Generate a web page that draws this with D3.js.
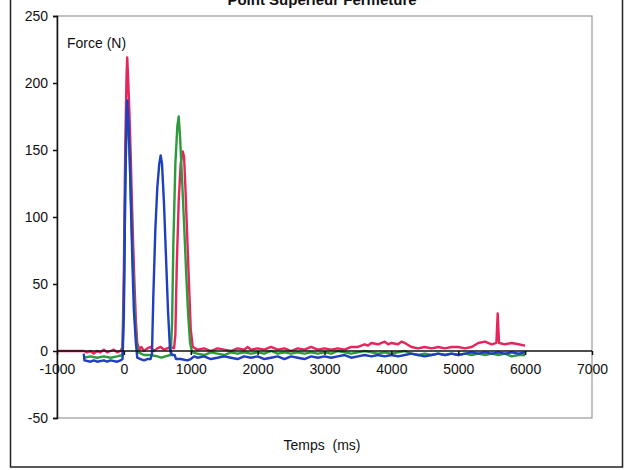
<!DOCTYPE html>
<html>
<head>
<meta charset="utf-8">
<script src="https://cdn.jsdelivr.net/npm/d3@7"></script>
<style>
  body { margin: 0; background: #fff; }
  svg { display: block; }
  text { font-family: "Liberation Sans", Arial, sans-serif; fill: #111; white-space: pre; }
</style>
</head>
<body>
<script>
// Point Supérieur Fermeture : force (N) vs temps (ms)
let xTicks = [-1000, 0, 1000, 2000, 3000, 4000, 5000, 6000, 7000];
let yTicks = [-50, 0, 50, 100, 150, 200, 250];

let redSeries = [
  [-1000, 0], [-600, 0], [-550, -1], [-500, 0], [-450, -2], [-400, 0], [-350, -1], [-300, 1],
  [-250, -1], [-200, 0], [-150, 1], [-100, -1], [-50, 0], [-20, 3], [0, 60], [20, 150],
  [40, 205], [50, 219], [60, 208], [80, 182], [100, 150], [120, 112], [140, 78], [160, 48],
  [180, 22], [200, 6], [230, 1], [260, 3], [300, 0], [350, 2], [400, 3], [450, 0],
  [500, 2], [550, 3], [600, 1], [650, 2], [700, 3], [750, 2], [770, 12], [790, 62],
  [820, 112], [850, 140], [880, 149], [900, 145], [920, 122], [950, 82], [980, 42], [1000, 16],
  [1030, 3], [1100, 1], [1200, 2], [1300, 0], [1400, 2], [1500, 1], [1600, 0], [1700, 2],
  [1800, 1], [1850, 3], [1900, 1], [2000, 2], [2100, 1], [2200, 3], [2300, 1], [2400, 2],
  [2500, 0], [2600, 2], [2700, 1], [2800, 3], [2900, 1], [3000, 2], [3100, 1], [3200, 2],
  [3300, 1], [3400, 3], [3500, 3], [3600, 5], [3650, 4], [3700, 6], [3800, 5], [3900, 7],
  [3950, 5], [4000, 6], [4100, 5], [4150, 7], [4200, 6], [4300, 3], [4400, 2], [4500, 3],
  [4600, 2], [4700, 3], [4800, 2], [4900, 3], [5000, 3], [5100, 2], [5200, 3], [5300, 6],
  [5400, 7], [5500, 5], [5570, 6], [5590, 28], [5610, 6], [5700, 5], [5800, 6], [5900, 5],
  [6000, 4]
];

let greenSeries = [
  [-600, -5], [-500, -4], [-400, -5], [-300, -4], [-200, -5], [-100, -4], [-20, -3], [0, 40],
  [20, 120], [40, 172], [55, 180], [70, 165], [90, 140], [110, 105], [130, 72], [150, 44],
  [170, 20], [190, 5], [220, -1], [300, -3], [400, -3], [500, -4], [560, -5], [620, -4],
  [700, -3], [720, 20], [740, 80], [770, 140], [800, 168], [820, 175], [840, 160], [870, 128],
  [900, 95], [930, 60], [960, 28], [990, 6], [1020, -1], [1100, -2], [1200, -3], [1300, -1],
  [1400, -2], [1500, -3], [1600, -1], [1700, -2], [1800, -1], [1900, -2], [2000, -1], [2100, -2],
  [2200, 0], [2300, -2], [2400, -1], [2500, -2], [2600, -1], [2700, -2], [2800, -1], [2900, -2],
  [3000, -1], [3100, -2], [3200, 0], [3300, -1], [3400, -2], [3500, -1], [3600, 0], [3700, -1],
  [3800, -2], [3900, -1], [4000, -2], [4100, -1], [4200, 0], [4300, -2], [4400, -3], [4500, -2],
  [4600, -3], [4700, -2], [4800, -3], [4900, -2], [5000, -3], [5100, -2], [5200, -3], [5300, -2],
  [5400, -3], [5500, -2], [5600, -3], [5700, -2], [5800, -4], [5900, -3], [6000, -3]
];

let blueSeries = [
  [-600, -2], [-590, -7], [-500, -8], [-450, -7], [-400, -8], [-300, -7], [-250, -8], [-200, -7],
  [-100, -8], [-50, -7], [-20, -6], [0, 28], [20, 118], [40, 178], [50, 187], [70, 170],
  [90, 140], [110, 100], [130, 62], [150, 30], [180, 6], [200, -5], [250, -6], [300, -7],
  [350, -6], [400, -6], [420, -2], [440, 40], [470, 90], [500, 122], [530, 140], [550, 146],
  [570, 140], [600, 110], [630, 70], [660, 30], [690, 1], [720, -3], [760, -3], [780, -6],
  [850, -6], [950, -7], [1000, -6], [1050, -4], [1100, -5], [1200, -4], [1300, -6], [1400, -5],
  [1500, -4], [1600, -5], [1700, -6], [1800, -4], [1900, -5], [2000, -4], [2100, -6], [2200, -5],
  [2300, -4], [2400, -6], [2500, -4], [2600, -5], [2700, -6], [2800, -4], [2900, -5], [3000, -4],
  [3100, -5], [3200, -4], [3300, -3], [3400, -5], [3500, -4], [3600, -3], [3700, -4], [3800, -3],
  [3900, -4], [4000, -3], [4100, -4], [4200, -3], [4300, -2], [4400, -3], [4500, -4], [4600, -3],
  [4700, -2], [4800, -3], [4900, -2], [5000, -3], [5100, -2], [5200, -1], [5300, -2], [5400, -1],
  [5500, -2], [5600, -1], [5700, -2], [5800, -1], [5900, -2], [6000, -1]
];

let series = [
  { name: "red", color: "#e8245c", values: redSeries },
  { name: "green", color: "#2f9a3c", values: greenSeries },
  { name: "blue", color: "#1f3fbf", values: blueSeries }
];

let width = 626, height = 470;

let svg = d3.select("body").append("svg")
  .attr("width", width)
  .attr("height", height)

// outer chart frame
svg.append("rect")
  .attr("x", 10.5).attr("y", -5)
  .attr("width", 612).attr("height", 472)
  .attr("fill", "none")
  .attr("stroke", "#222")
  .attr("stroke-width", 1.5)

// title, mostly cropped at the top like in the scan
svg.append("text")
  .attr("x", 322).attr("y", 5)
  .attr("text-anchor", "middle")
  .attr("font-size", "15px")
  .attr("font-weight", "bold")
  .text("Point Supérieur Fermeture")

let x = d3.scaleLinear().domain([-1000, 7000]).range([57, 592]);
let y = d3.scaleLinear().domain([-50, 250]).range([418, 16]);

// plot area border
svg.append("rect")
  .attr("x", x(-1000)).attr("y", y(250))
  .attr("width", x(7000) - x(-1000))
  .attr("height", y(-50) - y(250))
  .attr("fill", "none")
  .attr("stroke", "#999")
  .attr("stroke-width", 1.2)

let line = d3.line()
  .x(function (d) { return x(d[0]); })
  .y(function (d) { return y(d[1]); });

svg.selectAll("path.serie")
  .data(series)
  .enter()
  .append("path")
  .attr("class", "serie")
  .attr("d", function (d) { return line(d.values); })
  .attr("fill", "none")
  .attr("stroke", function (d) { return d.color; })
  .attr("stroke-width", 2.4)
  .attr("stroke-linejoin", "round")

let fmt = function (d) { return String(d); };

// y axis
let yAxis = svg.append("g")
  .attr("transform", "translate(" + x(-1000) + ",0)")
  .call(d3.axisLeft(y).tickValues(yTicks).tickSize(4).tickPadding(5).tickFormat(fmt))
yAxis.selectAll("path, line").attr("stroke", "#111").attr("stroke-width", 1.5)
yAxis.selectAll("text").attr("font-size", "14px").attr("font-family", "Liberation Sans, Arial, sans-serif").attr("fill", "#111")

// x axis crossing at 0
let xAxis = svg.append("g")
  .attr("transform", "translate(0," + y(0) + ")")
  .call(d3.axisBottom(x).tickValues(xTicks).tickSize(4).tickPadding(9).tickFormat(fmt))
xAxis.selectAll("path, line").attr("stroke", "#111").attr("stroke-width", 1.5)
xAxis.selectAll("text").attr("font-size", "14px").attr("font-family", "Liberation Sans, Arial, sans-serif").attr("fill", "#111")
xAxis.select(".domain").attr("d", "M" + x(-1000) + ",0H" + x(7000))

svg.append("text")
  .attr("x", 67).attr("y", 48)
  .attr("font-size", "14px")
  .text("Force (N)")

svg.append("text")
  .attr("x", 322).attr("y", 450)
  .attr("text-anchor", "middle")
  .attr("font-size", "14px")
  .text("Temps  (ms)")
</script>
</body>
</html>
